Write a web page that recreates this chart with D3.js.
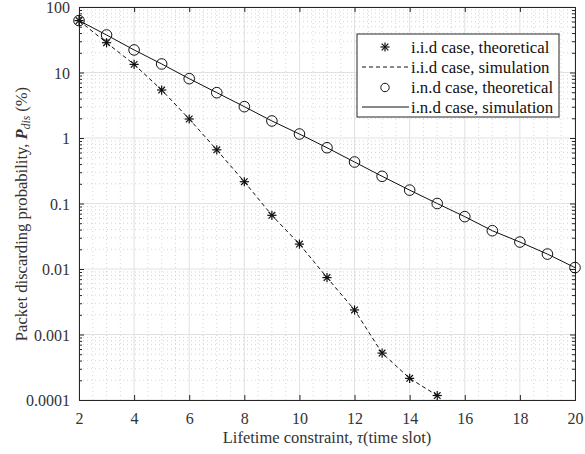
<!DOCTYPE html>
<html>
<head>
<meta charset="utf-8">
<script src="https://cdn.jsdelivr.net/npm/d3@7"></script>
<style>
  html, body { margin: 0; padding: 0; background: #fff; }
  svg text { font-family: "Liberation Serif", "Times New Roman", Times, serif !important; }
</style>
</head>
<body>
<svg id="chart" width="585" height="454"></svg>
<script>
// Lifetime constraint tau (time slots)
const tauIid = [2, 3, 4, 5, 6, 7, 8, 9, 10, 11, 12, 13, 14, 15];
const tauInd = [2, 3, 4, 5, 6, 7, 8, 9, 10, 11, 12, 13, 14, 15, 16, 17, 18, 19, 20];

// Packet discarding probability (%)
const iidTheoretical = [62, 28.5, 13.3, 5.4, 1.95, 0.66, 0.215, 0.066, 0.024, 0.0074, 0.00237, 0.00052, 0.000214, 0.000117];
const iidSimulation  = [62, 28.5, 13.3, 5.4, 1.95, 0.66, 0.215, 0.066, 0.024, 0.0074, 0.00237, 0.00052, 0.000214, 0.000117];
const indTheoretical = [62, 37.4, 22.1, 13.5, 8.05, 4.92, 3.01, 1.82, 1.15, 0.71, 0.43, 0.26, 0.16, 0.1, 0.063, 0.0384, 0.0258, 0.0169, 0.0105];
const indSimulation  = [62, 37.4, 22.1, 13.5, 8.05, 4.92, 3.01, 1.82, 1.15, 0.71, 0.43, 0.26, 0.16, 0.1, 0.063, 0.0384, 0.0258, 0.0169, 0.0105];

const xTicks = [2, 4, 6, 8, 10, 12, 14, 16, 18, 20];
const yTicks = [0.0001, 0.001, 0.01, 0.1, 1, 10, 100];
const yTickLabels = ["0.0001", "0.001", "0.01", "0.1", "1", "10", "100"];

const legendLabels = ["i.i.d case, theoretical", "i.i.d case, simulation", "i.n.d case, theoretical", "i.n.d case, simulation"];

const FONT = "'Liberation Serif', 'Times New Roman', serif";
const svg = d3.select("#chart");
const plotL = 79, plotR = 575, plotT = 7, plotB = 400;
const axisColor = "#262626";
const textColor = "#333";

const x = d3.scaleLinear().domain([2, 20]).range([plotL, plotR]);
const y = d3.scaleLog().domain([1e-4, 100]).range([plotB, plotT]);

// Minor grid (dotted)
const grid = svg.append("g");
const minorY = [];
for (let e = -4; e < 2; e++) for (let m = 2; m <= 9; m++) minorY.push(m * Math.pow(10, e));
const minorX = d3.range(2, 20.001, 0.5).filter(v => v % 2 !== 0);

grid.selectAll(".mnx").data(minorX).enter().append("line")
  .attr("x1", d => x(d)).attr("x2", d => x(d))
  .attr("y1", plotT).attr("y2", plotB)
  .attr("stroke", "#cacaca").attr("stroke-width", 0.8)
  .attr("stroke-dasharray", "1,3");
grid.selectAll(".mny").data(minorY).enter().append("line")
  .attr("x1", plotL).attr("x2", plotR)
  .attr("y1", d => y(d)).attr("y2", d => y(d))
  .attr("stroke", "#cacaca").attr("stroke-width", 0.8)
  .attr("stroke-dasharray", "1,3");

// Major grid (solid, light)
grid.selectAll(".mjx").data(xTicks).enter().append("line")
  .attr("x1", d => x(d)).attr("x2", d => x(d))
  .attr("y1", plotT).attr("y2", plotB)
  .attr("stroke", "#e1e1e1").attr("stroke-width", 1);
grid.selectAll(".mjy").data(yTicks).enter().append("line")
  .attr("x1", plotL).attr("x2", plotR)
  .attr("y1", d => y(d)).attr("y2", d => y(d))
  .attr("stroke", "#e1e1e1").attr("stroke-width", 1);

// Axes with inward ticks
const fmtY = d => yTickLabels[yTicks.indexOf(d)];
const axB = svg.append("g").attr("transform", `translate(0,${plotB})`)
  .call(d3.axisBottom(x).tickValues(xTicks).tickSize(-5).tickPadding(13).tickFormat(d3.format("d")));
const axT = svg.append("g").attr("transform", `translate(0,${plotT})`)
  .call(d3.axisTop(x).tickValues(xTicks).tickSize(-5).tickFormat(""));
const axL = svg.append("g").attr("transform", `translate(${plotL},0)`)
  .call(d3.axisLeft(y).tickValues(yTicks).tickSize(-5).tickPadding(9).tickFormat(fmtY));
const axR = svg.append("g").attr("transform", `translate(${plotR},0)`)
  .call(d3.axisRight(y).tickValues(yTicks).tickSize(-5).tickFormat(""));
const axLm = svg.append("g").attr("transform", `translate(${plotL},0)`)
  .call(d3.axisLeft(y).tickValues(minorY).tickSize(-3).tickFormat(""));
const axRm = svg.append("g").attr("transform", `translate(${plotR},0)`)
  .call(d3.axisRight(y).tickValues(minorY).tickSize(-3).tickFormat(""));

[axB, axT, axL, axR, axLm, axRm].forEach(g => {
  g.attr("font-family", FONT).attr("font-size", 16);
  g.selectAll("path.domain").attr("stroke", axisColor).attr("stroke-width", 1);
  g.selectAll(".tick line").attr("stroke", axisColor).attr("stroke-width", 1);
  g.selectAll(".tick text").attr("fill", textColor);
});
axL.selectAll(".tick text").attr("dy", "0.35em");

// Data lines
const line = d3.line().x(d => x(d[0])).y(d => y(d[1]));
svg.append("path")
  .datum(tauIid.map((t, i) => [t, iidSimulation[i]]))
  .attr("d", line).attr("fill", "none").attr("stroke", "#111")
  .attr("stroke-width", 1).attr("stroke-dasharray", "4,3");
svg.append("path")
  .datum(tauInd.map((t, i) => [t, indSimulation[i]]))
  .attr("d", line).attr("fill", "none").attr("stroke", "#111")
  .attr("stroke-width", 1);

// Star marker: plus combined with a cross
function star(g, cx, cy, r) {
  const a = r * 0.72;
  const segs = [[-r, 0, r, 0], [0, -r, 0, r], [-a, -a, a, a], [-a, a, a, -a]];
  segs.forEach(s => g.append("line")
    .attr("x1", cx + s[0]).attr("y1", cy + s[1]).attr("x2", cx + s[2]).attr("y2", cy + s[3])
    .attr("stroke", "#111").attr("stroke-width", 1.2));
}

const starsG = svg.append("g");
tauIid.forEach((t, i) => star(starsG, x(t), y(iidTheoretical[i]), 4.6));

svg.append("g").selectAll("circle")
  .data(tauInd.map((t, i) => [t, indTheoretical[i]])).enter().append("circle")
  .attr("cx", d => x(d[0])).attr("cy", d => y(d[1])).attr("r", 5.3)
  .attr("fill", "none").attr("stroke", "#111").attr("stroke-width", 1);

// Legend
const lg = svg.append("g").attr("font-family", FONT);
lg.append("rect").attr("x", 357).attr("y", 34).attr("width", 202).attr("height", 83)
  .attr("fill", "#fff").attr("stroke", axisColor).attr("stroke-width", 1);
const rowY = [47, 67, 87.5, 107];
star(lg, 385, rowY[0], 4.6);
lg.append("line").attr("x1", 362).attr("x2", 409).attr("y1", rowY[1]).attr("y2", rowY[1])
  .attr("stroke", "#111").attr("stroke-width", 1).attr("stroke-dasharray", "4,3");
lg.append("circle").attr("cx", 385).attr("cy", rowY[2]).attr("r", 4.2)
  .attr("fill", "none").attr("stroke", "#111").attr("stroke-width", 1);
lg.append("line").attr("x1", 362).attr("x2", 409).attr("y1", rowY[3]).attr("y2", rowY[3])
  .attr("stroke", "#111").attr("stroke-width", 1);
legendLabels.forEach((s, i) => lg.append("text")
  .attr("x", 411).attr("y", rowY[i]).attr("dy", "0.33em")
  .attr("fill", "#111").attr("font-size", 16.8).text(s));

// Axis titles
const xl = svg.append("text").attr("x", (plotL + plotR) / 2).attr("y", 443)
  .attr("text-anchor", "middle").attr("fill", textColor)
  .attr("font-family", FONT).attr("font-size", 16.5);
xl.append("tspan").text("Lifetime constraint, ");
xl.append("tspan").attr("font-style", "italic").text("τ");
xl.append("tspan").text("(time slot)");

const yl = svg.append("text").attr("transform", "translate(27,214) rotate(-90)")
  .attr("text-anchor", "middle").attr("fill", textColor)
  .attr("font-family", FONT).attr("font-size", 16.6);
yl.append("tspan").text("Packet discarding probability, ");
yl.append("tspan").attr("font-style", "italic").attr("font-weight", "bold").text("P");
yl.append("tspan").attr("font-style", "italic").attr("font-size", 11.5).attr("dy", 3).text("dis");
yl.append("tspan").attr("dy", -3).text(" (%)");
</script>
</body>
</html>
